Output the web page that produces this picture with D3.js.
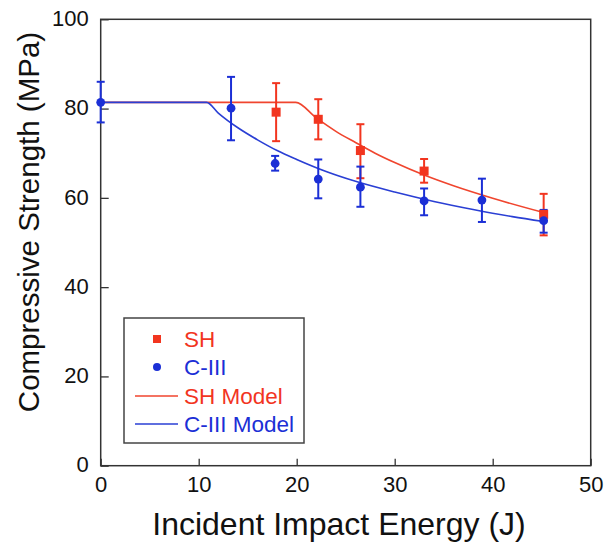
<!DOCTYPE html>
<html>
<head>
<meta charset="utf-8">
<script src="https://cdn.jsdelivr.net/npm/d3@7"></script>
<style>
  body { margin: 0; background: #fff; }
  text { font-family: "Liberation Sans", Arial, sans-serif; }
</style>
</head>
<body>
<div class="chart"></div>
<script>
'use strict';
(function() {
  // SH data (energy J, strength MPa, error bar ends)
  var shEnergy = [17.9, 22.2, 26.5, 33.0, 45.2];
  var shStrength = [79.2, 77.6, 70.6, 66.0, 56.3];
  var shLow = [72.7, 73.1, 64.4, 63.4, 51.6];
  var shHigh = [85.7, 82.1, 76.5, 68.7, 60.9];

  // C-III data
  var c3Energy = [0, 13.3, 17.8, 22.2, 26.5, 33.0, 38.9, 45.2];
  var c3Strength = [81.4, 80.1, 67.7, 64.2, 62.4, 59.3, 59.5, 54.9];
  var c3Low = [76.9, 72.9, 66.1, 59.9, 58.0, 56.1, 54.6, 52.2];
  var c3High = [86.0, 87.1, 69.4, 68.6, 67.0, 62.1, 64.3, 57.3];

  // Model curves
  var shModelX = [0, 19.9, 22, 24, 26, 28, 30, 33, 36, 40, 45.2];
  var shModelY = [81.4, 81.4, 77.9, 74.9, 72.4, 70.0, 67.9, 65.1, 62.7, 59.9, 56.7];
  var c3ModelX = [0, 10.8, 12, 14, 16, 18, 20, 23, 26, 30, 34, 38, 42, 45.2];
  var c3ModelY = [81.4, 81.4, 79.0, 75.7, 73.0, 70.6, 68.6, 65.9, 63.7, 61.3, 59.2, 57.4, 55.8, 54.7];

  var xTicks = [0, 10, 20, 30, 40, 50];
  var yTicks = [0, 20, 40, 60, 80, 100];
  var legendLabels = ['SH', 'C-III', 'SH Model', 'C-III Model'];

  var RED = '#f2351f';
  var BLUE = '#1b2fd6';
  var RED_LINE = '#f0452e';
  var BLUE_LINE = '#2a3fd4';

  //Width and height
  var w = 608;
  var h = 542;
  var left = 100.7, right = 590.7, top = 19.3, bottom = 465.7;

  var svg = d3.select('.chart')
    .append('svg')
    .attr('width', w)
    .attr('height', h);

  var xScale = d3.scaleLinear().domain([0, 50]).range([left, right]);
  var yScale = d3.scaleLinear().domain([0, 100]).range([bottom, top]);

  // Axes
  var xAxis = d3.axisBottom(xScale).tickValues(xTicks).tickSizeInner(-7).tickSizeOuter(0).tickPadding(11);
  var yAxis = d3.axisLeft(yScale).tickValues(yTicks).tickSizeInner(-8).tickSizeOuter(0).tickPadding(12);

  var gx = svg.append('g')
    .attr('transform', 'translate(0,' + bottom + ')')
    .call(xAxis);
  var gy = svg.append('g')
    .attr('transform', 'translate(' + left + ',0)')
    .call(yAxis);

  [gx, gy].forEach(function(g) {
    g.select('.domain').remove();
    g.selectAll('line').attr('stroke', '#333').attr('stroke-width', 1.3);
    g.selectAll('text')
      .attr('fill', '#111')
      .style('font-size', '22px')
      .style('font-family', '"Liberation Sans", Arial, sans-serif');
  });
  gx.selectAll('text').attr('dy', '0.71em');
  gy.selectAll('text').attr('dy', '0.28em');

  // Frame
  svg.append('rect')
    .attr('x', left).attr('y', top)
    .attr('width', right - left).attr('height', bottom - top)
    .attr('fill', 'none')
    .attr('stroke', '#333')
    .attr('stroke-width', 1.5);

  // Axis titles
  svg.append('text')
    .attr('x', 339)
    .attr('y', 535)
    .attr('text-anchor', 'middle')
    .style('font-size', '32px')
    .attr('fill', '#111')
    .text('Incident Impact Energy (J)');

  svg.append('text')
    .attr('transform', 'translate(39,222) rotate(-90)')
    .attr('text-anchor', 'middle')
    .style('font-size', '29.5px')
    .attr('fill', '#111')
    .text('Compressive Strength (MPa)');

  // Model lines
  var line = d3.line()
    .x(function(d) { return xScale(d[0]); })
    .y(function(d) { return yScale(d[1]); })
    .curve(d3.curveMonotoneX);

  svg.append('path')
    .datum(d3.zip(shModelX, shModelY))
    .attr('d', line)
    .attr('fill', 'none')
    .attr('stroke', RED_LINE)
    .attr('stroke-width', 1.6);

  svg.append('path')
    .datum(d3.zip(c3ModelX, c3ModelY))
    .attr('d', line)
    .attr('fill', 'none')
    .attr('stroke', BLUE_LINE)
    .attr('stroke-width', 1.6);

  // Error bars
  var drawErrors = function(xs, lows, highs, color) {
    var g = svg.append('g').attr('stroke', color).attr('stroke-width', 2);
    var capW = 4;
    xs.forEach(function(x, i) {
      var px = xScale(x);
      g.append('line')
        .attr('x1', px).attr('x2', px)
        .attr('y1', yScale(lows[i])).attr('y2', yScale(highs[i]));
      g.append('line')
        .attr('x1', px - capW).attr('x2', px + capW)
        .attr('y1', yScale(lows[i])).attr('y2', yScale(lows[i]));
      g.append('line')
        .attr('x1', px - capW).attr('x2', px + capW)
        .attr('y1', yScale(highs[i])).attr('y2', yScale(highs[i]));
    });
  };

  drawErrors(shEnergy, shLow, shHigh, RED);
  drawErrors(c3Energy, c3Low, c3High, BLUE);

  // Markers
  svg.append('g')
    .selectAll('rect')
    .data(d3.zip(shEnergy, shStrength))
    .enter()
    .append('rect')
    .attr('x', function(d) { return xScale(d[0]) - 4.5; })
    .attr('y', function(d) { return yScale(d[1]) - 4.5; })
    .attr('width', 9)
    .attr('height', 9)
    .attr('fill', RED);

  svg.append('g')
    .selectAll('circle')
    .data(d3.zip(c3Energy, c3Strength))
    .enter()
    .append('circle')
    .attr('cx', function(d) { return xScale(d[0]); })
    .attr('cy', function(d) { return yScale(d[1]); })
    .attr('r', 4.4)
    .attr('fill', BLUE);

  // Legend
  var legend = svg.append('g');
  legend.append('rect')
    .attr('x', 124).attr('y', 318)
    .attr('width', 180).attr('height', 125)
    .attr('fill', '#fff')
    .attr('stroke', '#444')
    .attr('stroke-width', 1.5);

  var rowY = [339, 367, 396, 424];
  var rowColor = [RED, BLUE, RED, BLUE];
  legendLabels.forEach(function(label, i) {
    var y = rowY[i];
    if (i === 0) {
      legend.append('rect').attr('x', 153).attr('y', y - 4).attr('width', 8).attr('height', 8).attr('fill', RED);
    } else if (i === 1) {
      legend.append('circle').attr('cx', 157).attr('cy', y).attr('r', 4).attr('fill', BLUE);
    } else {
      legend.append('line')
        .attr('x1', 135).attr('x2', 178)
        .attr('y1', y).attr('y2', y)
        .attr('stroke', i === 2 ? RED_LINE : BLUE_LINE)
        .attr('stroke-width', 1.6);
    }
    legend.append('text')
      .attr('x', 184)
      .attr('y', y)
      .attr('dy', '0.36em')
      .style('font-size', '22.5px')
      .attr('fill', rowColor[i])
      .text(label);
  });
})();
</script>
</body>
</html>
